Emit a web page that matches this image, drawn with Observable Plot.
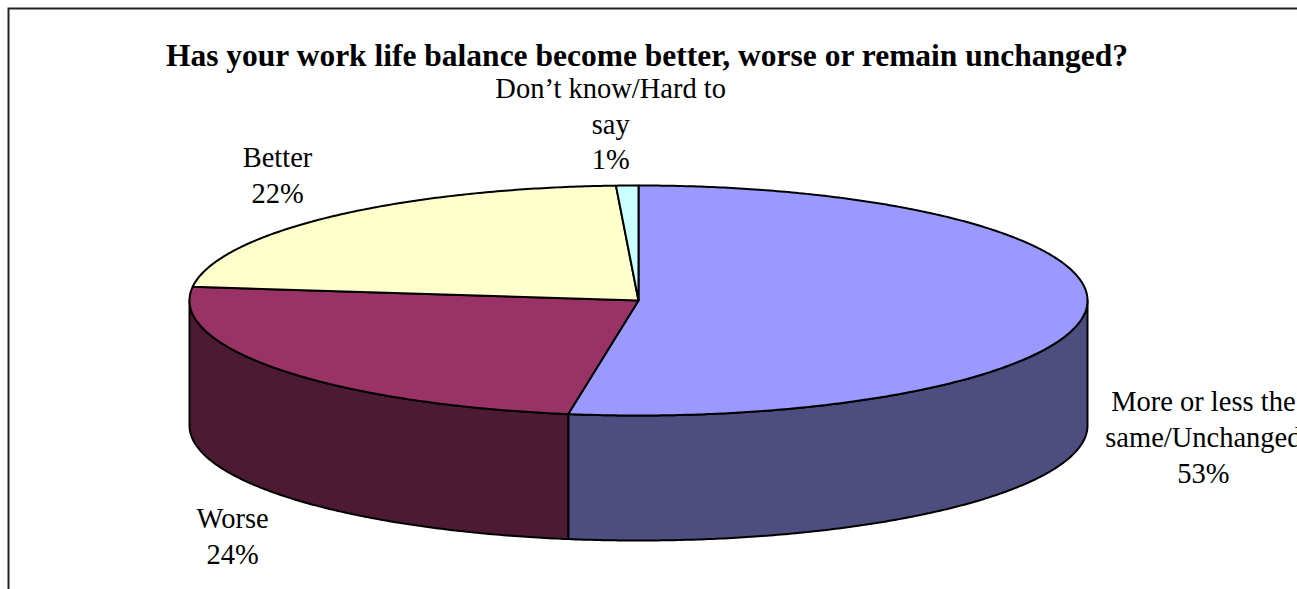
<!DOCTYPE html>
<html><head><meta charset="utf-8">
<script src="https://cdn.jsdelivr.net/npm/d3@7"></script>
<script src="https://cdn.jsdelivr.net/npm/@observablehq/plot@0.6"></script>
<style>html,body{margin:0;padding:0;background:#fff;overflow:hidden}</style>
</head><body><div id="chart"></div>
<script>
// ---- data ----
const title = "Has your work life balance become better, worse or remain unchanged?";
const categories = ["More or less the same/Unchanged", "Worse", "Better", "Don’t know/Hard to say"];
const values = [52.5, 24.4, 22.3, 0.8];
const labelLines = [["More or less the", "same/Unchanged"], ["Worse"], ["Better"], ["Don’t know/Hard to", "say"]];

// ---- styles / layout ----
const topColors = ["#9999FF", "#993366", "#FFFFCC", "#CCFFFF"];
const sideColors = ["#4D4D7F", "#4D1A33", "#80805F", "#5F8080"];
const labelPos = [[1.258, -1.174], [-0.904, -2.035], [-0.804, 1.104], [-0.062, 1.548]];
const DEPTH = 125 / 115;

const total = d3.sum(values);
let acc = 0;
const slices = values.map((v, i) => {
  const a0 = acc / total * 360; acc += v; const a1 = acc / total * 360;
  return {i, a0, a1};
});
const rad = d => d * Math.PI / 180;
function arc(a, b, dy = 0) {
  const n = Math.max(2, Math.ceil(Math.abs(b - a) / 0.5));
  return d3.range(n + 1).map(k => {
    const t = rad(a + (b - a) * k / n);
    return {x: Math.sin(t), y: Math.cos(t) - dy};
  });
}
const tops = [], sides = [];
slices.forEach(s => {
  const pts = [{x: 0, y: 0}, ...arc(s.a0, s.a1), {x: 0, y: 0}];
  pts.forEach(p => tops.push({...p, id: s.i, fill: topColors[s.i]}));
  const a = Math.max(s.a0, 90), b = Math.min(s.a1, 270);
  if (b > a) {
    const sp = [...arc(a, b), ...arc(b, a, DEPTH)];
    sp.push(sp[0]);
    sp.forEach(p => sides.push({...p, id: s.i, fill: sideColors[s.i]}));
  }
});
const labels = slices.map(s => ({
  x: labelPos[s.i][0], y: labelPos[s.i][1],
  text: [...labelLines[s.i], Math.round(values[s.i]) + "%"].join("\n")
}));

const chart = Plot.plot({
  width: 1297, height: 589,
  marginLeft: 8, marginTop: 8, marginRight: 0, marginBottom: 0,
  x: {domain: [-1, 1], range: [189, 1087], axis: null},
  y: {domain: [-1, 1], range: [415, 185], axis: null},
  color: {type: "identity"},
  style: {fontFamily: "'Liberation Serif', 'Times New Roman', serif", background: "#fff", color: "#000"},
  marks: [
    Plot.frame({stroke: "#222", strokeWidth: 2, insetRight: -10, insetBottom: -10}),
    Plot.line(sides, {x: "x", y: "y", z: "id", fill: "fill", stroke: "#000", strokeWidth: 2, curve: "linear"}),
    Plot.line(tops, {x: "x", y: "y", z: "id", fill: "fill", stroke: "#000", strokeWidth: 2, curve: "linear"}),
    Plot.text(labels, {x: "x", y: "y", text: "text", fontSize: 28.5, lineHeight: 1.25, lineAnchor: "middle", fill: "#000"}),
    Plot.text([title], {frameAnchor: "top", dx: -6, dy: 47, fontSize: 31.5, fontWeight: "bold", lineAnchor: "middle", fill: "#000"})
  ]
});
document.getElementById("chart").append(chart);
</script>
</body></html>
